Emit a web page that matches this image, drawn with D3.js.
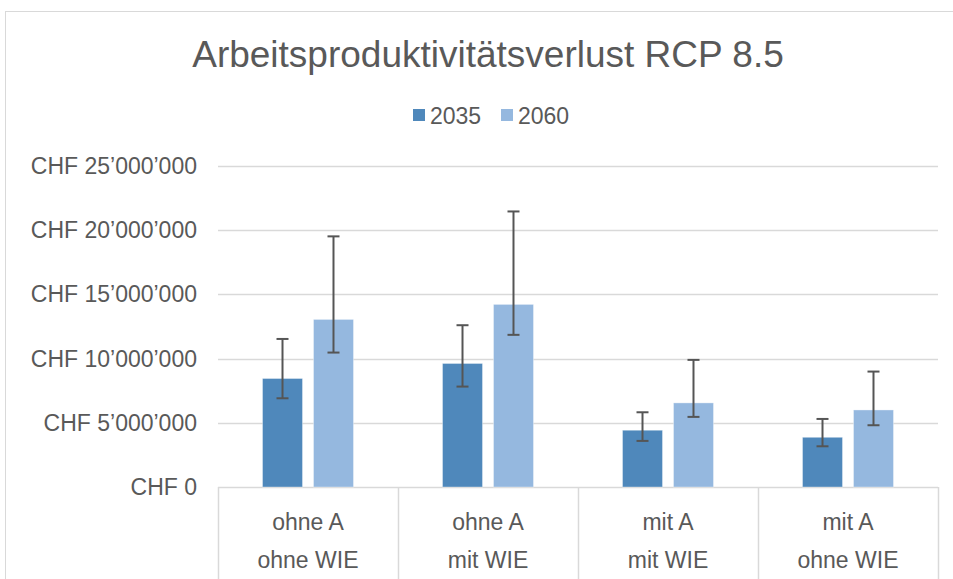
<!DOCTYPE html>
<html lang="de">
<head>
    <meta charset="UTF-8">
    <title>Arbeitsproduktivitätsverlust RCP 8.5</title>
    <script src="https://cdn.jsdelivr.net/npm/d3@7"></script>
    <style>
        body { margin: 0; background: #fff; }
        text { font-family: "Liberation Sans", Arial, sans-serif; fill: #595959; }
    </style>
</head>
<body>
    <script>
        // data
        const categories = [["ohne A", "ohne WIE"], ["ohne A", "mit WIE"], ["mit A", "mit WIE"], ["mit A", "ohne WIE"]];
        const seriesNames = ["2035", "2060"];
        const values2035 = [8450000, 9620000, 4420000, 3870000];
        const values2060 = [13050000, 14220000, 6550000, 6000000];
        const errLow2035 = [6910000, 7820000, 3590000, 3170000];
        const errHigh2035 = [11530000, 12600000, 5820000, 5300000];
        const errLow2060 = [10470000, 11850000, 5460000, 4810000];
        const errHigh2060 = [19520000, 21460000, 9900000, 8990000];
        const yTicks = [0, 5000000, 10000000, 15000000, 20000000, 25000000];
        const colors = ["#4f88bb", "#95b8df"];

        const width = 953;
        const height = 579;
        const margin = { left: 218, right: 15, top: 166, bottom: 92 };

        const svg = d3.select("body")
            .append("svg")
            .attr("width", width)
            .attr("height", height);

        // chart frame
        svg.append("rect")
            .attr("x", 5.5).attr("y", 11.5)
            .attr("width", 1000).attr("height", 700)
            .attr("fill", "none")
            .attr("stroke", "#d9d9d9");

        const x = d3.scaleBand()
            .domain(d3.range(categories.length))
            .range([margin.left, width - margin.right]);

        const xInner = d3.scaleBand()
            .domain(seriesNames)
            .range([0, x.bandwidth()])
            .paddingInner(0.216)
            .paddingOuter(0.873);

        const y = d3.scaleLinear()
            .domain([0, 25000000])
            .range([height - margin.bottom, margin.top]);

        const fmt = v => "CHF " + d3.format(",")(v).replace(/,/g, "\u2019");

        // gridlines
        svg.append("g")
            .selectAll("line")
            .data(yTicks)
            .enter().append("line")
            .attr("x1", margin.left)
            .attr("x2", width - margin.right)
            .attr("y1", d => Math.round(y(d)) + 0.5)
            .attr("y2", d => Math.round(y(d)) + 0.5)
            .attr("stroke", "#d9d9d9")
            .attr("stroke-width", 1.5);

        // y labels
        svg.append("g")
            .selectAll("text")
            .data(yTicks)
            .enter().append("text")
            .attr("x", 197)
            .attr("y", d => y(d))
            .attr("dy", "0.35em")
            .attr("text-anchor", "end")
            .style("font-size", "23px")
            .text(fmt);

        // category dividers
        const dividers = d3.range(categories.length + 1).map(i => i < categories.length ? x(i) : x(i - 1) + x.bandwidth());
        svg.append("g")
            .selectAll("line")
            .data(dividers)
            .enter().append("line")
            .attr("x1", d => Math.round(d) + 0.5)
            .attr("x2", d => Math.round(d) + 0.5)
            .attr("y1", y(0))
            .attr("y2", height)
            .attr("stroke", "#d9d9d9")
            .attr("stroke-width", 1.5);

        // category labels
        const catLabel = svg.append("g")
            .selectAll("text")
            .data(categories)
            .enter().append("text")
            .attr("text-anchor", "middle")
            .style("font-size", "23px");
        catLabel.append("tspan")
            .attr("x", (d, i) => x(i) + x.bandwidth() / 2)
            .attr("y", 530)
            .text(d => d[0]);
        catLabel.append("tspan")
            .attr("x", (d, i) => x(i) + x.bandwidth() / 2)
            .attr("y", 568)
            .text(d => d[1]);

        // bars
        const series = [
            { name: "2035", values: values2035, low: errLow2035, high: errHigh2035, color: colors[0] },
            { name: "2060", values: values2060, low: errLow2060, high: errHigh2060, color: colors[1] }
        ];
        const rows = [];
        series.forEach(s => {
            s.values.forEach((v, i) => {
                rows.push({ cat: i, name: s.name, value: v, low: s.low[i], high: s.high[i], color: s.color });
            });
        });

        svg.append("g")
            .selectAll("rect")
            .data(rows)
            .enter().append("rect")
            .attr("x", d => x(d.cat) + xInner(d.name))
            .attr("y", d => y(d.value))
            .attr("width", xInner.bandwidth())
            .attr("height", d => y(0) - y(d.value))
            .attr("fill", d => d.color)
            .attr("stroke", "#fff")
            .attr("stroke-opacity", 0.35)
            .attr("stroke-width", 1);

        // error bars
        const err = svg.append("g")
            .attr("stroke", "#555")
            .attr("stroke-width", 2)
            .selectAll("g")
            .data(rows)
            .enter().append("g")
            .attr("transform", d => `translate(${x(d.cat) + xInner(d.name) + xInner.bandwidth() / 2},0)`);
        err.append("line")
            .attr("y1", d => y(d.low))
            .attr("y2", d => y(d.high));
        err.append("line")
            .attr("x1", -6).attr("x2", 6)
            .attr("y1", d => y(d.high))
            .attr("y2", d => y(d.high));
        err.append("line")
            .attr("x1", -6).attr("x2", 6)
            .attr("y1", d => y(d.low))
            .attr("y2", d => y(d.low));

        // title
        svg.append("text")
            .attr("x", 488)
            .attr("y", 67)
            .attr("text-anchor", "middle")
            .style("font-size", "37px")
            .text("Arbeitsproduktivitätsverlust RCP 8.5");

        // legend
        const legendX = [413, 501];
        const legend = svg.append("g")
            .selectAll("g")
            .data(series)
            .enter().append("g")
            .attr("transform", (d, i) => `translate(${legendX[i]},109)`);
        legend.append("rect")
            .attr("width", 12)
            .attr("height", 12)
            .attr("fill", d => d.color);
        legend.append("text")
            .attr("x", 17)
            .attr("y", 14.5)
            .style("font-size", "23px")
            .text(d => d.name);
    </script>
</body>
</html>
